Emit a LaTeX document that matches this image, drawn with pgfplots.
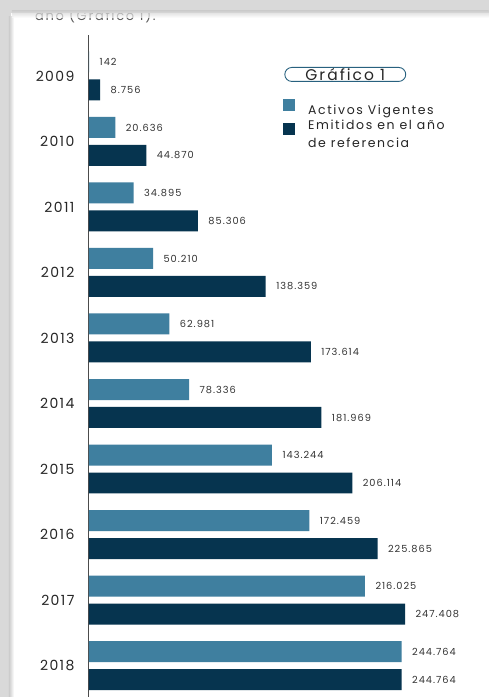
\documentclass[border=0pt]{standalone}
\usepackage{pgfplots}
\pgfplotsset{compat=1.18}
\usepackage{fontspec}
\setmainfont{Poppins}
\newfontfamily\yearfont[LetterSpace=10]{Poppins}
\newfontfamily\valfont[LetterSpace=10]{Poppins}
\newfontfamily\legfont[LetterSpace=13]{Poppins}
\definecolor{activ}{HTML}{3F7F9F}
\definecolor{emit}{HTML}{06344F}
\definecolor{txt}{HTML}{333333}
\begin{document}
\begin{tikzpicture}
\fill[white] (0pt,0pt) rectangle (489pt,697pt);
% shadow frame
\fill[gray!30] (0pt,0pt) rectangle (11pt,697pt);
\shade[left color=gray!40, right color=white] (9pt,0pt) rectangle (14pt,680pt);
\begin{scope}
\clip (12pt,672pt) rectangle (489pt,684pt);
\node[anchor=base west, inner sep=0pt, text=gray!70!black, font=\legfont\fontsize{13}{13}\selectfont] at (35pt,676pt) {año (Gráfico 1).};
\end{scope}
\fill[gray!30] (0pt,684pt) rectangle (489pt,697pt);
\shade[top color=gray!40, bottom color=white, opacity=0.7] (12pt,679pt) rectangle (489pt,686pt);
\begin{axis}[
  at={(89pt,31pt)}, anchor=origin,
  scale only axis, width=383.6pt, height=662pt,
  xbar, xmin=0, xmax=300000,
  ymin=-0.473, ymax=9.625,
  ytick={0,...,9},
  yticklabels={2018,2017,2016,2015,2014,2013,2012,2011,2010,2009},
  hide x axis,
  axis y line*=left,
  y axis line style={-, draw=gray!60!black, line width=0.9pt},
  major tick length=0pt,
  ytick style={draw=none},
  yticklabel style={font=\yearfont\fontsize{14}{14}\selectfont, text=black!85, xshift=-11pt},
  /pgf/number format/.cd, 1000 sep={.}, fixed, precision=0, assume math mode=true,
  /pgfplots/.cd,
  nodes near coords,
  nodes near coords align={horizontal},
  point meta=x,
  every node near coord/.append style={font=\valfont\fontsize{9.8}{10}\selectfont, text=txt, xshift=7pt},
  legend image code/.code={\draw[#1, draw=none] (0pt,-1pt) rectangle (12pt,11pt);},
  legend style={at={(0.498,0.906)}, anchor=north west, draw=none, fill=none,
    font=\legfont\fontsize{12.5}{18}\selectfont, row sep=0pt,
    nodes={align=left, text=black!85},
    /tikz/every odd column/.append style={column sep=11pt}},
  legend cell align=left,
  clip=false,
]
\addplot[xbar, bar width=21pt, bar shift=14pt, fill=activ, draw=none]
  coordinates {(142,9) (20636,8) (34895,7) (50210,6) (62981,5) (78336,4) (143244,3) (172459,2) (216025,1) (244764,0)};
\addlegendentry{Activos Vigentes}
\addplot[xbar, bar width=21pt, bar shift=-14pt, fill=emit, draw=none]
  coordinates {(8756,9) (44870,8) (85306,7) (138359,6) (173614,5) (181969,4) (206114,3) (225865,2) (247408,1) (244764,0)};
\addlegendentry{Emitidos en el año\\de referencia}
\end{axis}
\node[draw=activ!60!emit, line width=0.9pt, rounded corners=7pt, minimum width=121pt, minimum height=14pt, inner sep=0pt, font=\legfont\fontsize{15.5}{15.5}\selectfont, text=black!85] at (345.5pt,622.5pt) {Gráfico 1};
\end{tikzpicture}
\end{document}
